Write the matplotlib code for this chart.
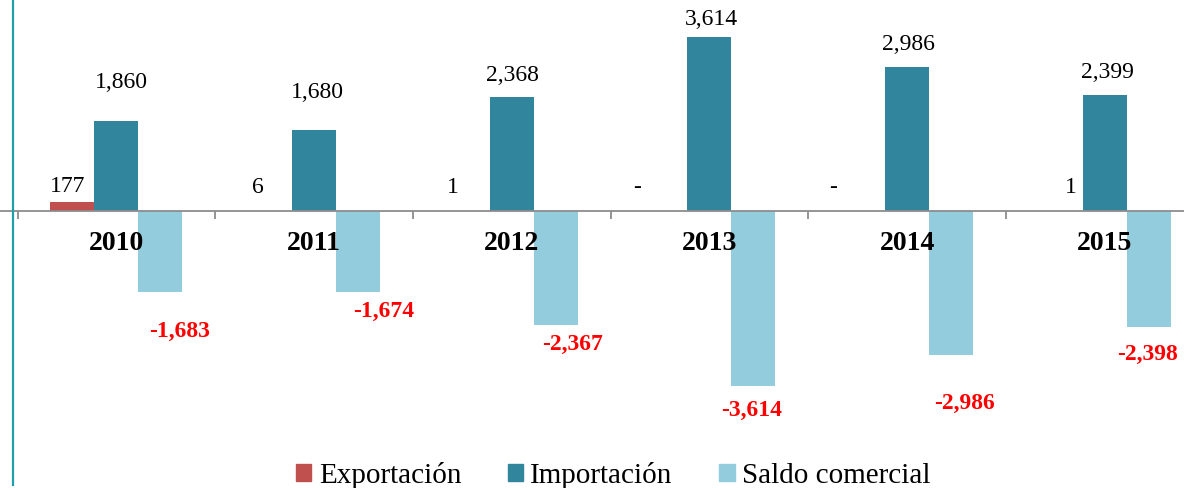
import matplotlib

matplotlib.use("Agg")
import matplotlib.pyplot as plt
import numpy as np
from matplotlib.patches import Patch
from matplotlib.lines import Line2D

years = ["2010", "2011", "2012", "2013", "2014", "2015"]
exportacion = [177, 6, 1, 0, 0, 1]
exportacion_labels = ["177", "6", "1", "-", "-", "1"]
importacion = [1860, 1680, 2368, 3614, 2986, 2399]
saldo = [-1683, -1674, -2367, -3614, -2986, -2398]

# label nudges in pixels (dx, dy)
exp_off = [(-5, 17), (-12, 24), (-15, 24), (-28, 24), (-30, 24), (10, 24)]
imp_off = [(5, 40), (3, 38), (1, 22), (2, 18), (1, 23), (3, 24)]
sal_off = [(19, -38), (26, -19), (17, -18), (-2, -24), (13, -47), (-1, -27)]

C_EXP = "#C0504D"
C_IMP = "#31859C"
C_SAL = "#93CDDD"
SERIF = ["Liberation Serif", "DejaVu Serif"]

plt.rcParams["font.family"] = SERIF

W, H = 1184, 489
fig = plt.figure(figsize=(W / 100, H / 100), dpi=100)
ax = fig.add_axes([0, 0, 1, 1])

cat_px = 197.7
left_px = 17.5
x = np.arange(len(years))
bw = 44 / cat_px
ax.bar(x - bw, exportacion, bw, color=C_EXP, zorder=2)
ax.bar(x, importacion, bw, color=C_IMP, zorder=2)
ax.bar(x + bw, saldo, bw, color=C_SAL, zorder=2)

for i in range(len(years)):
    ax.annotate(exportacion_labels[i], (x[i] - bw, exportacion[i]),
                xytext=exp_off[i], textcoords="offset pixels",
                ha="center", va="center", fontsize=17)
    ax.annotate(f"{importacion[i]:,}", (x[i], importacion[i]),
                xytext=imp_off[i], textcoords="offset pixels",
                ha="center", va="center", fontsize=17)
    ax.annotate(f"{saldo[i]:,}", (x[i] + bw, saldo[i]),
                xytext=sal_off[i], textcoords="offset pixels",
                ha="center", va="center", fontsize=17,
                color="#FF0000", fontweight="bold")
    ax.annotate(years[i], (x[i], 0), xytext=(0, -32),
                textcoords="offset pixels", ha="center", va="center",
                fontsize=20, fontweight="bold", zorder=3)

# category axis through zero, ticks at the category boundaries
for s in ["top", "right", "left"]:
    ax.spines[s].set_visible(False)
ax.spines["bottom"].set_position(("data", 0))
ax.spines["bottom"].set_color("#8C8C8C")
ax.spines["bottom"].set_linewidth(1.3)
ax.set_xticks(np.arange(-0.5, len(years) - 1, 1))
ax.tick_params(axis="x", length=6, width=1.3, color="#8C8C8C",
               direction="out", labelbottom=False)
ax.set_yticks([])

ax.set_xlim(-0.5 - left_px / cat_px, -0.5 + (W - left_px) / cat_px)
ppu = 174.5 / 3614  # pixels per unit
ax.set_ylim(-(H - 212) / ppu, 212 / ppu)

# teal frame line at left edge
fig.add_artist(Line2D([12.5 / W, 12.5 / W], [3 / H, 1], color="#1E9FAA",
                      lw=1.6, transform=fig.transFigure))

handles = [Patch(color=C_EXP), Patch(color=C_IMP), Patch(color=C_SAL)]
fig.legend(handles, ["Exportación", "Importación", "Saldo comercial"],
           loc="center", bbox_to_anchor=(0.518, 1 - 476 / H), ncol=3,
           frameon=False, fontsize=21, handlelength=0.52, handleheight=0.52,
           handletextpad=0.25, columnspacing=1.6, borderpad=0)

fig.savefig("out.png", dpi=100)
